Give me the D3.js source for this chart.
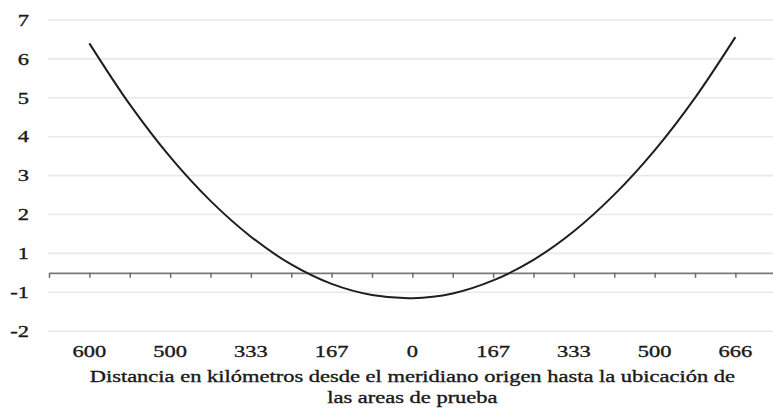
<!DOCTYPE html>
<html>
<head>
<meta charset="utf-8">
<script src="https://cdn.jsdelivr.net/npm/d3@7"></script>
<style>
  html, body { margin: 0; padding: 0; background: #fff; }
  svg { display: block; }
  text { font-family: "Liberation Serif", "Times New Roman", serif; fill: #1a1a1a; stroke: #1a1a1a; stroke-width: 0.35px; }
</style>
</head>
<body>
<div id="chart"></div>
<script>
// ---- data ----
const yTickLabels = [7, 6, 5, 4, 3, 2, 1, -1, -2];
const xTickLabels = ["600", "500", "333", "167", "0", "167", "333", "500", "666"];
const xLabelPositions = [-4, -3, -2, -1, 0, 1, 2, 3, 4];
const xTickPositions = [-4.5, -4, -3.5, -3, -2.5, -2, -1.5, -1, -0.5, 0, 0.5, 1, 1.5, 2, 2.5, 3, 3.5, 4, 4.5];
const curvePositions = [-4, -3.5, -3, -2.5, -2, -1.5, -1, -0.5, 0, 0.5, 1, 1.5, 2, 2.5, 3, 3.5, 4];
const curveValues = [6.4, 4.83, 3.48, 2.35, 1.43, 0.43, -0.57, -1.07, -1.15, -1.03, -0.39, 0.67, 1.57, 2.51, 3.65, 5.0, 6.56];
const titleLines = ["Distancia en kilómetros desde el meridiano origen hasta la ubicación de", "las areas de prueba"];

// ---- layout ----
const W = 773, H = 412;
const plotLeft = 49, plotRight = 775.75;
const gridTop = 20, gridStep = 38.9;

const svg = d3.select("#chart").append("svg").attr("width", W).attr("height", H);

const x = d3.scaleLinear().domain([-4.5, 4.5]).range([plotLeft, plotRight]);
// y axis: the labels skip 0; the category axis sits midway between 1 and -1
const y = d3.scaleLinear()
  .domain([-2, -1, 1, 7])
  .range([gridTop + 8 * gridStep, gridTop + 7 * gridStep, gridTop + 6 * gridStep, gridTop]);

// gridlines
svg.append("g").selectAll("line").data(yTickLabels).join("line")
  .attr("x1", plotLeft - 1).attr("x2", W)
  .attr("y1", d => y(d)).attr("y2", d => y(d))
  .attr("stroke", "#e9e9e9").attr("stroke-width", 1.6);

// text scale (source image is horizontally stretched)
const probe = svg.append("text").attr("font-size", 17).text(titleLines[0]);
const sx = 646 / probe.node().getComputedTextLength();
probe.remove();

// y labels
svg.append("g").selectAll("text").data(yTickLabels).join("text")
  .attr("transform", d => `translate(29,${y(d)}) scale(${sx},1)`)
  .attr("text-anchor", "end").attr("dy", "0.34em")
  .attr("font-size", 17)
  .text(d => d);

// x axis at 0
const xAxis = d3.axisBottom(x)
  .tickValues(xTickPositions)
  .tickSize(5).tickSizeOuter(0).tickFormat(() => "");
const gx = svg.append("g").attr("transform", `translate(0,${y(0)})`).call(xAxis);
gx.select(".domain").attr("stroke", "#7a7a7a").attr("stroke-width", 1.6);
gx.selectAll(".tick line").attr("stroke", "#6e6e6e").attr("stroke-width", 1.5);
gx.selectAll(".tick text").remove();

// x labels
svg.append("g").selectAll("text").data(xLabelPositions).join("text")
  .attr("transform", (d) => `translate(${x(d)},357) scale(${sx},1)`)
  .attr("text-anchor", "middle").attr("font-size", 17)
  .text((d, i) => xTickLabels[i]);

// curve
const pts = curvePositions.map((p, i) => [x(p), y(curveValues[i])]);
svg.append("path")
  .attr("d", d3.line().curve(d3.curveCatmullRom.alpha(0.5))(pts))
  .attr("fill", "none").attr("stroke", "#1e1e1e").attr("stroke-width", 2);

// axis title
svg.append("g").selectAll("text").data(titleLines).join("text")
  .attr("transform", (d, i) => `translate(${(plotLeft + plotRight) / 2},${382 + i * 21}) scale(${sx},1)`)
  .attr("text-anchor", "middle").attr("font-size", 17)
  .text(d => d);
</script>
</body>
</html>
